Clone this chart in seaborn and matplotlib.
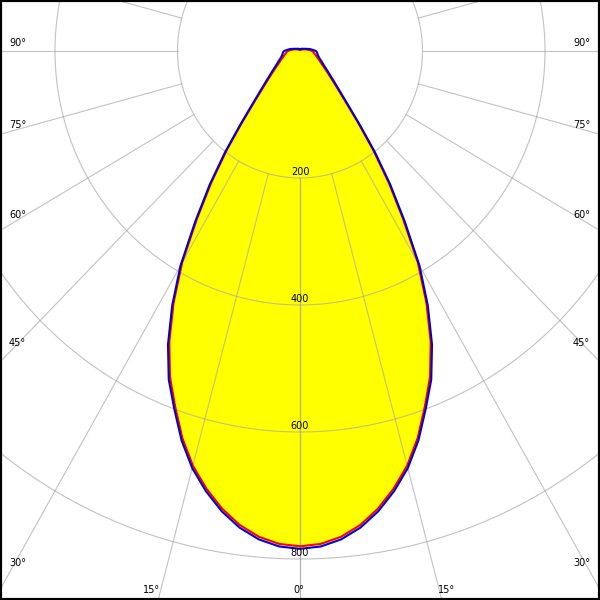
import numpy as np
import pandas as pd
import matplotlib
matplotlib.use('Agg')
import matplotlib.pyplot as plt
import seaborn as sns
from matplotlib.patches import Rectangle

# gamma angle (deg from nadir) and luminous intensity (cd)
gamma = [0, 2.5, 5, 7.5, 10, 12.5, 15, 17.5, 20, 22.5, 25, 27.5, 30, 32.5, 35, 37.5,
         40, 42.5, 45, 47.5, 50, 55, 60, 65, 70, 75, 80, 85, 90, 95, 100, 105, 110,
         120, 135, 150, 165, 180]
cd_c0 = [780, 777, 768, 753, 732, 706, 676, 639, 596, 555, 505, 447, 385, 313, 252, 196,
         148, 114, 92, 77, 66, 51, 41, 35, 30, 27, 24, 22, 20, 16, 13, 10, 8,
         5, 3, 2, 2, 2]
cd_c90 = [784, 781, 772, 757, 736, 710, 680, 643, 600, 560, 510, 452, 390, 318, 257, 201,
          152, 118, 96, 81, 70, 55, 45, 39, 34, 31, 29, 28, 26, 21, 17, 13, 10,
          7, 5, 4, 3, 3]

rings = [200, 400, 600, 800, 1000]
ring_labels = ['200', '400', '600', '800']
spokes = list(range(0, 181, 15))
side_labels = ['90°', '75°', '60°', '45°', '30°']
bottom_labels = ['15°', '0°', '15°']

# full curve, -180..180
theta = np.deg2rad(np.concatenate([-np.array(gamma[::-1]), np.array(gamma[1:])]))
df = pd.DataFrame({
    'theta': theta,
    'C0-C180': np.concatenate([cd_c0[::-1], cd_c0[1:]]),
    'C90-C270': np.concatenate([cd_c90[::-1], cd_c90[1:]]),
})

sns.set_style('white')
W = H = 600
fig = plt.figure(figsize=(6, 6), dpi=100)

# pole position (px from bottom-left) and px per cd (diagram is slightly stretched vertically)
cx, cy = 300, 549
sx, sy = 0.6125, 0.635
rmax = 1200
ax = fig.add_axes([(cx - rmax * sx) / W, (cy - rmax * sy) / H,
                   2 * rmax * sx / W, 2 * rmax * sy / H], projection='polar')
ax.set_aspect('auto')
ax.set_theta_zero_location('S')
ax.set_axis_off()

ax.fill(df['theta'], df['C0-C180'], color='#ffff00', lw=0, zorder=1)

# grid
grid_kw = dict(color='#a8a8a8', lw=0.8, alpha=0.7, zorder=2)
tt = np.linspace(0, 2 * np.pi, 721)
for rr in rings:
    ax.plot(tt, np.full_like(tt, rr), **grid_kw)
for a in spokes:
    for s in (1, -1):
        ax.plot([np.deg2rad(s * a)] * 2, [rings[0], rmax], **grid_kw)

sns.lineplot(data=df, x='theta', y='C0-C180', sort=False, estimator=None,
             color='#ff0000', lw=1.5, ax=ax, zorder=3)
sns.lineplot(data=df, x='theta', y='C90-C270', sort=False, estimator=None,
             color='#0000d8', lw=1.5, ax=ax, zorder=4)

ax.set_xlim(-np.pi, np.pi)
ax.set_ylim(0, rmax)

for rr, lab in zip(rings, ring_labels):
    ax.text(0, rr - 5, lab, ha='center', va='baseline', fontsize=7,
            color='black', zorder=5)

# angle labels along the border (pixel baselines)
for lab, yb in zip(side_labels, [46, 128, 218, 346, 566]):
    fig.text(9 / W, 1 - yb / H, lab, ha='left', va='baseline', fontsize=7, color='black')
    fig.text(590 / W, 1 - yb / H, lab, ha='right', va='baseline', fontsize=7, color='black')
for lab, xl in zip(bottom_labels, [143, 293, 438]):
    fig.text(xl / W, 1 - 593 / H, lab, ha='left', va='baseline', fontsize=7, color='black')

fig.add_artist(Rectangle((0, 0), 1, 1, transform=fig.transFigure, fill=False,
                         ec='black', lw=3))

fig.savefig('out.png', dpi=100)
